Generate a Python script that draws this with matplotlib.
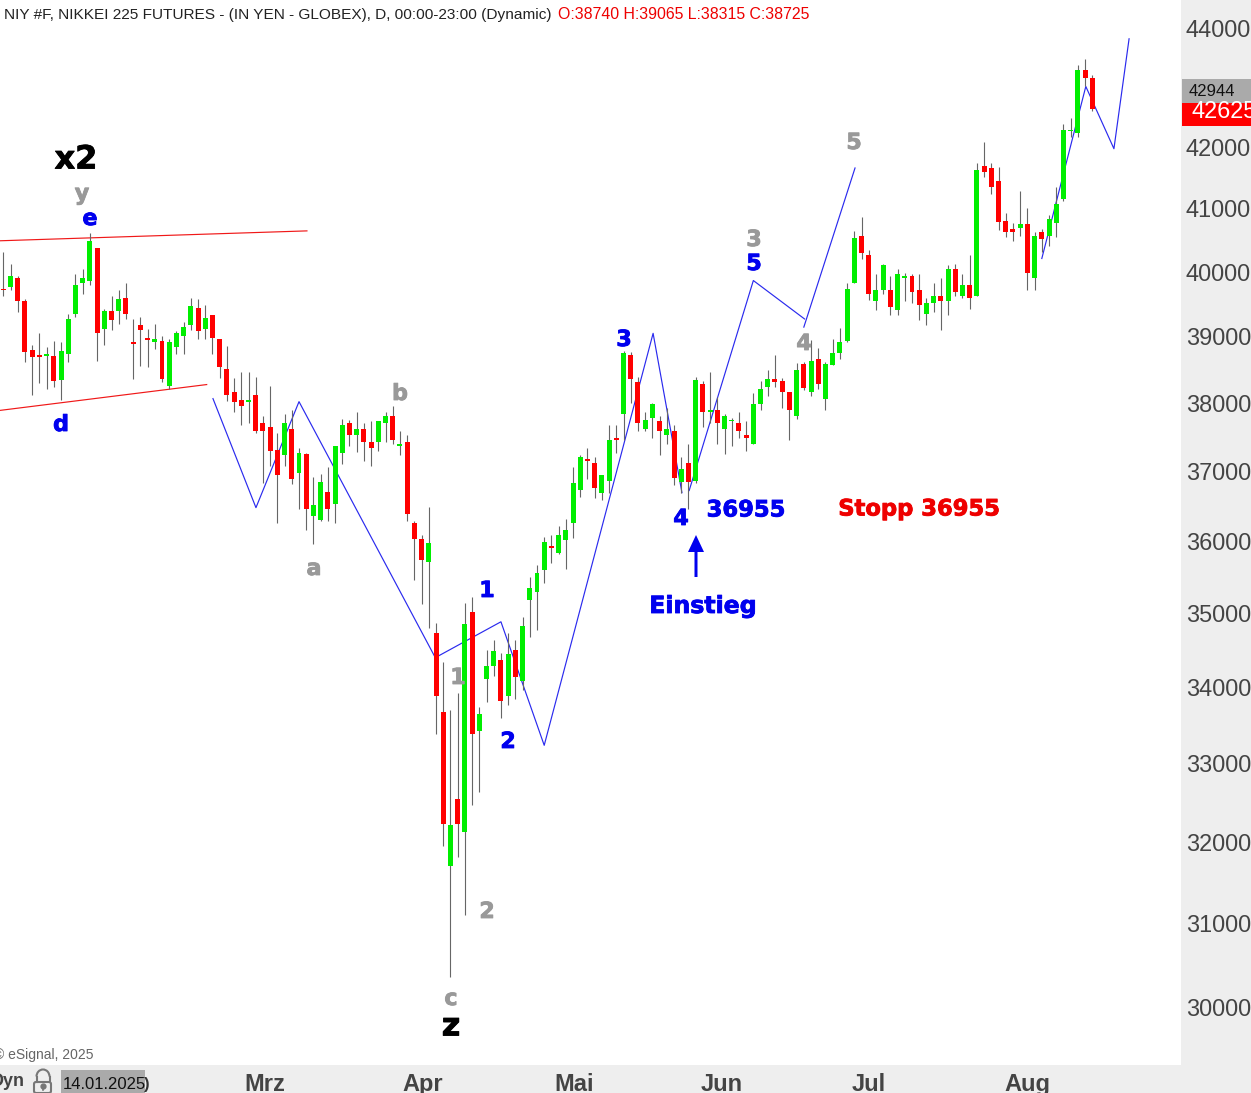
import matplotlib
matplotlib.use("Agg")
import matplotlib.pyplot as plt
import matplotlib.patches as mpatches
import matplotlib.patheffects as pe
from matplotlib.ticker import NullFormatter
from matplotlib.transforms import ScaledTranslation
import numpy as np

W, H = 1251, 1093
PLOT_W, PLOT_H = 1181, 1065

# daily candles
highs = [40330,40140,39940,39590,38880,39060,38850,38940,38930,39360,
         39970,40050,40630,40390,39440,39630,39720,39840,39280,39310,
         39120,39200,39020,38970,39090,39230,39610,39590,39500,39340,
         38970,38870,38390,38480,38480,38400,37810,38270,37570,37840,
         37900,37340,37280,36930,36970,37070,37380,37780,37760,37880,
         37710,37740,37750,37880,37970,37600,37530,36300,36090,36500,
         34880,34350,33710,33940,35150,35230,33750,34510,34650,34470,
         34740,34640,34960,35510,35670,36070,36100,36230,36330,37070,
         37250,37350,37210,36960,37690,37690,38790,38780,38400,37880,
         38010,37810,37930,37690,37220,37400,38400,38340,38480,38100,
         37850,37790,37880,37740,38160,38340,38510,38730,38390,38180,
         38610,38630,38960,38840,38630,38970,39140,39830,40660,40880,
         40360,39970,40140,39940,40060,40000,39970,39970,39610,39830,
         39920,40120,40140,39980,40280,41750,42100,41750,41690,40950,
         40780,41300,41020,40640,40690,40910,41360,42400,42500,43390,
         43490,43220]
lows = [39630,39720,39390,38630,38130,38310,38220,38250,38060,38630,
        39310,39670,39810,38640,38880,39110,39200,39280,38370,38570,
        38550,38820,38330,38220,38750,38750,39110,38970,38970,38750,
        38390,38040,37870,37680,37720,37560,36840,37090,36260,37090,
        36830,36460,36170,35970,36290,36300,36270,37120,37380,37290,
        37150,37090,37310,37430,37400,37250,36300,35470,35130,34810,
        33400,31960,30360,31820,31110,32480,32640,33810,34160,33600,
        33780,33860,33970,34690,34780,35430,35710,35830,35620,36060,
        36640,36900,36630,36590,36690,37280,37460,38010,37590,37590,
        37490,37240,37400,36810,36700,36460,36840,37660,37720,37400,
        37260,37370,37490,37310,37410,37900,38120,38250,37940,37470,
        37780,38200,38120,38220,37910,38580,38670,38930,39830,40220,
        39580,39420,39660,39340,39340,39560,39530,39270,39190,39380,
        39110,39340,39630,39610,39440,39630,41520,41250,40670,40560,
        40490,40580,39730,39730,40330,40420,40560,41130,42180,42180,
        43020,42610]
opens = [39750,39780,39920,39550,38810,38730,38720,38720,38360,38750,
         39360,39830,39860,40390,39120,39410,39410,39610,38930,39190,
         38990,38930,38940,38270,38850,39020,39190,39450,39120,39340,
         38970,38520,38180,38060,38030,38130,37720,37650,37320,37240,
         37630,36990,37260,36370,36310,36710,36540,37280,37710,37530,
         37630,37440,37440,37720,37820,37380,37430,36260,36040,35720,
         34740,33680,31710,32560,32140,35030,33430,34120,34300,34380,
         33900,34510,34090,35190,35300,35600,35940,35850,36030,36270,
         36740,37180,37130,36700,36870,37490,37840,38730,38330,37620,
         37790,37750,37540,37600,36860,37130,36870,38300,37880,37910,
         37630,37740,37720,37530,37410,38000,38250,38370,38340,38180,
         37810,38600,38180,38670,38070,38580,38760,38940,39830,40580,
         40270,39550,39730,39730,39420,39910,39940,39720,39360,39520,
         39640,39560,40050,39630,39810,39630,41700,41670,41460,40810,
         40690,40700,40770,39910,40640,40580,40780,41160,42270,42250,
         43290,43160]
closes = [39720,39940,39550,38780,38700,38700,38750,38340,38790,39280,
          39810,39920,40490,39060,39410,39270,39590,39360,38900,39110,
          38960,38970,38370,38930,39060,39160,39480,39090,39300,38990,
          38550,38130,38030,37960,38060,37590,37590,37310,36960,37710,
          36900,37280,36470,36530,36860,36460,37370,37690,37540,37630,
          37440,37350,37740,37820,37470,37410,36390,36040,35750,35990,
          33900,32240,32230,32240,34860,33400,33650,34300,34490,33830,
          34460,34150,34840,35360,35570,36000,35920,36090,36170,36840,
          37220,37150,36760,36960,37470,37460,38760,38370,37720,37760,
          38000,37600,37620,36910,37040,36860,38360,37870,37910,37710,
          37810,37760,37590,37490,37990,38220,38370,38330,38180,37910,
          38510,38240,38640,38300,38600,38760,38930,39750,40550,40300,
          39670,39720,40120,39470,39980,39940,39700,39500,39520,39630,
          39560,40050,39700,39800,39610,41640,41610,41360,40800,40640,
          40640,40770,40000,40580,40530,40840,41080,42290,42300,43290,
          43160,42640]

# hand drawn wave paths (bar index, price)
wave_a_x = [29.07, 35.03, 41.0, 59.9, 69.0, 75.0, 90.1, 94.1]
wave_a_y = [38075, 36485, 38030, 34406, 34892, 33246, 39060, 36700]
wave_b_x = [95.1, 104.0, 111.1]
wave_b_y = [36730, 39875, 39280]
wave_c_x = [111.0, 118.1]
wave_c_y = [39155, 41670]
wave_d_x = [144.0, 150.1, 154.0, 156.1]
wave_d_y = [40220, 43020, 41985, 43830]

# triangle lines
upper_x = [-0.46, 42.1]
upper_y = [40500, 40657]
lower_x = [-0.46, 28.2]
lower_y = [37900, 38285]

price_ticks = [30000, 31000, 32000, 33000, 34000, 35000, 36000, 37000,
               38000, 39000, 40000, 41000, 42000, 44000]
month_ticks = [36.3, 58.1, 79.1, 99.6, 120.0, 142.0]
month_labels = ["Mrz", "Apr", "Mai", "Jun", "Jul", "Aug"]

# text, x, y, colour, size (figure pixels)
labels = [("x2", 76, 160, "black", 23),
          ("y", 82, 194, "#999999", 16),
          ("e", 90, 219, "#0000ee", 16),
          ("d", 61, 425, "#0000ee", 16),
          ("b", 400, 394, "#999999", 16),
          ("a", 314, 569, "#999999", 16),
          ("c", 451, 999, "#999999", 16),
          ("z", 451, 1027, "black", 23),
          ("1", 487, 591, "#0000ee", 16),
          ("1", 458, 678, "#999999", 16),
          ("2", 508, 742, "#0000ee", 16),
          ("2", 487, 912, "#999999", 16),
          ("3", 624, 340, "#0000ee", 16),
          ("4", 681, 519, "#0000ee", 16),
          ("3", 754, 240, "#999999", 16),
          ("5", 754, 264, "#0000ee", 16),
          ("4", 804, 344, "#999999", 16),
          ("5", 854, 143, "#999999", 16),
          ("36955", 746, 510, "#0000ee", 16.3),
          ("Stopp 36955", 919, 509, "#ee0000", 16.3),
          ("Einstieg", 703, 606, "#0000ee", 17)]

plt.rcParams['font.family'] = ['Liberation Sans', 'DejaVu Sans']

fig = plt.figure(figsize=(W / 100, H / 100), dpi=100, facecolor="#eeeeee")
ax = fig.add_axes([0, 1 - PLOT_H / H, PLOT_W / W, PLOT_H / H], facecolor="white")

x = np.arange(len(closes))
o = np.array(opens)
c = np.array(closes)
up = c >= o
colors = np.where(up, "#00ee00", "#ff0000")
tops = np.maximum(o, c)
bottoms = np.minimum(o, c)

for wx, wy in [(wave_a_x, wave_a_y), (wave_b_x, wave_b_y),
               (wave_c_x, wave_c_y), (wave_d_x, wave_d_y)]:
    ax.plot(wx, wy, color="#2a2aee", lw=0.85, zorder=1)
ax.plot(upper_x, upper_y, color="#f01818", lw=0.85, zorder=1)
ax.plot(lower_x, lower_y, color="#f01818", lw=0.85, zorder=1)

ax.vlines(x, lows, highs, color="#666666", lw=0.8, zorder=2)
ax.bar(x, tops - bottoms, bottom=bottoms, width=0.69, color=colors, linewidth=0, zorder=3)

ax.set_yscale("log")
ax.set_xlim(-0.462, 163.3)
ax.set_ylim(29338, 44500)
ax.yaxis.tick_right()
ax.set_yticks(price_ticks)
ax.set_yticklabels([str(p) for p in price_ticks])
ax.yaxis.set_minor_formatter(NullFormatter())
ax.tick_params(axis="y", which="both", length=0, pad=3.5, labelsize=16.9, labelcolor="#444444")
up_1px = ScaledTranslation(0, 1 / 100, fig.dpi_scale_trans)
for t in ax.get_yticklabels():
    t.set_transform(t.get_transform() + up_1px)
ax.set_xticks(month_ticks)
ax.set_xticklabels(month_labels, fontweight="bold")
ax.tick_params(axis="x", length=0, pad=5.5, labelsize=17, labelcolor="#444444")
for s in ax.spines.values():
    s.set_visible(False)

# overlay in figure pixels for the annotations and the platform chrome
ov = fig.add_axes([0, 0, 1, 1], facecolor="none")
ov.set_xlim(0, W)
ov.set_ylim(H, 0)
ov.axis("off")

for txt, tx, ty, col, size in labels:
    # the original uses a much heavier face, a thin outline gets close
    ov.text(tx, ty, txt, color=col, fontsize=size, fontweight="bold",
            family="DejaVu Sans", ha="center", va="center",
            path_effects=[pe.withStroke(linewidth=0.6, foreground=col)])

ov.add_patch(mpatches.FancyArrow(696, 577, 0, -42, width=3, head_width=16, head_length=17,
                                 length_includes_head=True, color="#0000ee", linewidth=0))

ov.text(4, 14.5, "NIY #F, NIKKEI 225 FUTURES - (IN YEN - GLOBEX), D, 00:00-23:00 (Dynamic)",
        fontsize=11.1, color="#222222", ha="left", va="center")
ov.text(558, 14.5, "O:38740 H:39065 L:38315 C:38725", fontsize=11.48, color="#ee0000",
        ha="left", va="center")

# last price tags
ov.add_patch(mpatches.Rectangle((1182, 79), 69, 24, color="#aaaaaa", linewidth=0))
ov.add_patch(mpatches.Rectangle((1182, 103), 69, 23, color="#ff0000", linewidth=0))
ov.text(1189, 91.5, "42944", fontsize=12, color="#111111", ha="left", va="center")
ov.text(1192, 111, "42625", fontsize=16.9, color="white", ha="left", va="center")

# bottom left bits
ov.text(94, 1055.5, "© eSignal, 2025", fontsize=10, color="#666666", ha="right", va="center")
ov.text(25, 1082, "Dyn", fontsize=13, fontweight="bold", color="#444444", ha="right", va="center")
ov.add_patch(mpatches.FancyBboxPatch((35, 1083), 15, 9, boxstyle="round,pad=1,rounding_size=2",
                                     facecolor="none", edgecolor="#777777", lw=1.5))
ov.add_patch(mpatches.Arc((43, 1076.5), 13, 14, theta1=180, theta2=360, color="#777777", lw=1.5))
ov.plot([36.5, 36.5], [1076.5, 1082], color="#777777", lw=1.5)
ov.plot([49.5, 49.5], [1076.5, 1082], color="#777777", lw=1.5)
ov.plot([42.5], [1086], marker="o", ms=3.5, color="#777777")
ov.plot([42.5, 42.5], [1086, 1090], color="#777777", lw=1.2)
ov.text(144, 1084, ")", fontsize=12, fontweight="bold", color="#333333", ha="left", va="center")
ov.add_patch(mpatches.Rectangle((61, 1070), 84, 23, color="#aaaaaa", linewidth=0))
ov.text(63, 1084.5, "14.01.2025", fontsize=12, color="#111111", ha="left", va="center")

fig.savefig("out.png", dpi=100, facecolor=fig.get_facecolor())
